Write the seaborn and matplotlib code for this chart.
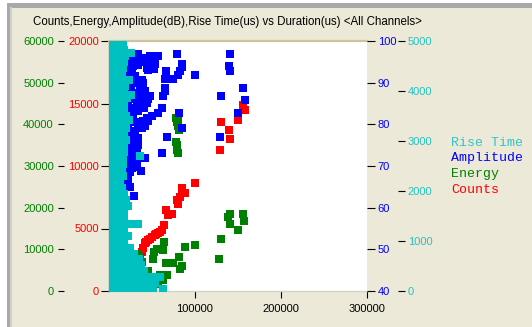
import matplotlib
matplotlib.use("Agg")
import matplotlib.pyplot as plt
import seaborn as sns
import pandas as pd
from matplotlib.patches import Rectangle

# ---------------- data (duration in thousands of us) ----------------
count_dur_k = [100, 85.3, 88.4, 82.6, 78.7, 80.6, 84.5, 65.9, 69.0, 72.9, 64.3, 61.2,
               57.4, 53.5, 49.6, 45.7, 41.9, 39.9, 38.0, 36.0, 32.2, 30.2, 28.3, 18.6,
               156.2, 158.1, 149.7, 130.2, 139.9, 140.7, 129.1, 59.0, 55.0, 47.5, 43.5,
               34.0, 26.5]
counts = [8660, 8210, 7810, 7550, 7280, 6930, 8000, 6480, 6080, 6130, 5280, 4880,
          4610, 4480, 4350, 4080, 3810, 3410, 3090, 2750, 2350, 2080, 1950, 2080,
          14900, 14450, 13710, 13520, 12910, 12190, 11250, 4700, 4550, 4200, 3950,
          2550, 1700]

energy_dur_k = [77.9, 79.0, 80.6, 81.8, 80.6, 77.9, 78.7, 79.5, 80.6,
                140.7, 138.7, 156.2, 157.4, 140.7, 149.7, 129.9, 100.0, 128.3,
                64.3, 55.4, 52.7, 63.2, 88.4, 81.4, 85.3, 82.6, 74.0, 65.9, 51.6,
                34.1, 36.0, 38.0, 34.1, 45.7, 41.9, 43.8, 32.2, 24.4, 22.5, 59.3,
                67.1, 63.2, 57.4, 49.6, 30.0, 27.0, 40.0]
energy = [41500, 40600, 39600, 38600, 41000, 35800, 35000, 33800, 33100,
          18400, 17800, 18400, 16800, 16200, 14600, 12500, 11000, 7600,
          11800, 10200, 9400, 9800, 10600, 8200, 6100, 5200, 6800, 6800, 7700,
          9000, 8200, 7000, 6200, 4800, 4000, 2600, 3800, 4600, 3400, 3800,
          3800, 2600, 1800, 2600, 1500, 2200, 1200]

amp_dur_k = [78.7, 140.7, 34.1, 32.6, 33.5, 53.5, 53.5, 52.0, 45.7, 84.5, 84.5, 82.6,
             80.6, 65.9, 100.0, 74.8, 65.1, 139.2, 140.7, 26.4, 30.2, 38.0, 39.9, 65.1,
             65.1, 63.2, 38.0, 47.7, 130.2, 39.9, 34.1, 32.2, 38.0, 43.8, 61.2, 57.4,
             49.6, 43.8, 39.9, 45.7, 34.1, 26.4, 28.3, 81.8, 85.3, 38.0, 34.1, 41.9,
             67.1, 129.1, 34.1, 30.2, 34.1, 26.4, 61.2, 41.9, 26.4, 22.5, 28.3, 156.2,
             158.1, 149.7,
             22, 26, 30, 36, 28, 24, 22, 25, 28, 23, 22, 26, 30, 24, 28, 33, 36, 22,
             26, 30, 24, 28, 31, 22, 22, 26, 30, 24, 28, 22, 22, 25, 30, 23, 27, 24,
             33, 18.6, 24.4, 22.5, 20.6, 24.4, 29.4, 16.7, 14.7, 37.2, 32.6, 26.8,
             1, 1, 1, 1, 1.2, 1.2, 1.2, 1.2,
             40, 45, 48, 57, 44, 34, 38, 42, 45, 36, 41, 31, 35, 29, 33]
amplitude = [96.9, 96.9, 96.9, 95.5, 94.3, 95.8, 94.5, 93.2, 93.0, 94.5, 93.7, 92.7,
             91.9, 92.7, 91.8, 90.9, 90.9, 93.9, 92.7, 92.7, 91.5, 90.7, 89.9, 88.7,
             87.9, 86.7, 87.9, 86.7, 86.7, 85.5, 85.5, 84.7, 84.7, 85.1, 83.9, 82.7,
             81.9, 81.5, 80.7, 80.7, 83.1, 83.1, 81.5, 82.7, 79.1, 79.1, 79.5, 79.5,
             76.9, 76.9, 76.7, 75.9, 75.1, 75.1, 73.1, 71.9, 71.9, 73.1, 70.3, 88.7,
             85.8, 82.7,
             96.0, 95.5, 96.2, 95.0, 94.0, 93.8, 92.0, 91.0, 90.0, 89.5, 88.5, 88.0,
             87.5, 86.5, 86.0, 86.5, 85.8, 84.5, 84.0, 83.5, 82.5, 82.0, 80.5, 80.8,
             79.5, 78.5, 78.0, 77.5, 77.0, 76.0, 74.5, 74.0, 73.5, 72.5, 72.0, 71.0,
             71.5, 69.4, 68.6, 66.6, 65.4, 65.0, 62.8, 62.6, 60.0, 68.8, 69.8, 69.5,
             68.0, 65.0, 62.0, 60.5, 82.0, 78.0, 76.0, 74.5,
             95.8, 94.8, 96.3, 96.5, 93.5, 87.0, 86.0, 88.0, 86.0, 89.0, 84.0, 90.5,
             80.0, 77.5, 74.0]

rise_rows = [
    (4950, [4, 8, 12, 16]),
    (4830, [3, 7, 11, 15, 18]),
    (4760, [26]),
    (4710, [3, 7, 11, 15, 19]),
    (4590, [2, 6, 10, 14, 17]),
    (4470, [2, 6, 10, 14, 16]),
    (4350, [3, 7, 11, 15]),
    (4230, [3, 7, 11, 15, 18, 23]),
    (4110, [2, 6, 10, 14, 19]),
    (3990, [1, 5, 9, 13, 17]),
    (3930, [26]),
    (3870, [1, 5, 9, 13, 17, 21]),
    (3750, [1, 5, 9, 13, 18]),
    (3630, [1, 5, 9, 13, 17]),
    (3510, [1, 5, 9, 13, 17, 20]),
    (3430, [23]),
    (3390, [1, 5, 9, 13, 17]),
    (3270, [1, 5, 9, 13, 17, 20]),
    (3150, [1, 5, 9, 13, 17]),
    (3030, [1, 5, 9, 13, 17, 20]),
    (2910, [1, 5, 9, 13, 17]),
    (2790, [1, 5, 9, 13, 17]),
    (2710, [36]),
    (2670, [1, 5, 9, 13, 16]),
    (2550, [1, 5, 9, 13, 16]),
    (2430, [1, 5, 9, 13, 15]),
    (2310, [1, 5, 9, 13, 16]),
    (2190, [1, 5, 9, 13]),
    (2070, [1, 5, 9, 13, 15]),
    (1950, [1, 5, 9, 13, 17]),
    (1830, [1, 5, 9, 13, 16, 20]),
    (1710, [1, 5, 9, 13, 17, 22]),
    (1590, [1, 5, 9, 13, 17]),
    (1470, [1, 5, 9, 13, 17]),
    (1350, [1, 5, 9, 13, 17, 21, 26, 34]),
    (1230, [1, 5, 9, 13, 17]),
    (1110, [1, 5, 9, 13, 17, 22]),
    (990, [1, 5, 9, 13, 17]),
    (870, [1, 5, 9, 13, 17, 24]),
    (750, [1, 5, 9, 13, 17, 21, 25, 29]),
    (650, [1, 5, 9, 13, 17, 21, 25, 30, 35]),
    (530, [1, 5, 9, 13, 17, 21, 25, 29, 33, 37]),
    (410, [1, 5, 9, 13, 17, 21, 25, 29, 33, 37, 41]),
    (290, [1, 5, 9, 13, 17, 21, 25, 29, 33, 37, 41, 45, 54, 59]),
    (170, [1, 5, 9, 13, 17, 21, 25, 29, 33, 37, 41, 49, 53]),
    (50, [1, 5, 9, 13, 17, 21, 25, 29, 33, 37, 45, 51, 63]),
]

x_ticks = [100000, 200000, 300000]
count_ticks = [0, 5000, 10000, 15000, 20000]
energy_ticks = [0, 10000, 20000, 30000, 40000, 50000, 60000]
amp_ticks = [40, 50, 60, 70, 80, 90, 100]
rise_ticks = [0, 1000, 2000, 3000, 4000, 5000]
legend_labels = ["Rise Time", "Amplitude", "Energy", "Counts"]

# ---------------- build frames ----------------
df_c = pd.DataFrame({"dur": [v * 1000 for v in count_dur_k], "val": counts})
df_e = pd.DataFrame({"dur": [v * 1000 for v in energy_dur_k], "val": energy})
df_a = pd.DataFrame({"dur": [v * 1000 for v in amp_dur_k], "val": amplitude})
rx, ry = [], []
for r, xs in rise_rows:
    for xv in xs:
        rx.append(xv * 1000)
        ry.append(r)
df_r = pd.DataFrame({"dur": rx, "val": ry})

# ---------------- style ----------------
sns.set_theme(style="white")
plt.rcParams['font.family'] = ['Liberation Sans', 'DejaVu Sans']

BG = '#ECE9D8'
C_RED, C_GREEN, C_BLUE, C_CYAN = '#FF0000', '#008000', '#0000FF', '#00C0C0'
W, H = 532, 327

fig = plt.figure(figsize=(W / 100, H / 100), dpi=100, facecolor=BG)
ax = fig.add_axes([109 / W, 36 / H, 258 / W, 250 / H])
ax.set_facecolor('white')
ax_e = ax.twinx()
ax_a = ax.twinx()
ax_r = ax.twinx()

MS = 27
kw = dict(marker='s', s=MS, linewidth=0, legend=False)
sns.scatterplot(data=df_c, x="dur", y="val", ax=ax, color=C_RED, **kw)
sns.scatterplot(data=df_e, x="dur", y="val", ax=ax_e, color=C_GREEN, **kw)
sns.scatterplot(data=df_a, x="dur", y="val", ax=ax_a, color=C_BLUE, **kw)
sns.scatterplot(data=df_r, x="dur", y="val", ax=ax_r, color=C_CYAN, **kw)

ax.set_xlim(0, 300000)
ax.set_ylim(0, 20000)
ax_e.set_ylim(0, 60000)
ax_a.set_ylim(40, 100)
ax_r.set_ylim(0, 5000)

for a in (ax, ax_e, ax_a, ax_r):
    a.set_xlabel("")
    a.set_ylabel("")

ax.set_xticks(x_ticks)
ax.set_xticklabels([str(t) for t in x_ticks])
ax.set_yticks(count_ticks)
ax.set_yticklabels([str(t) for t in count_ticks])
ax_e.set_yticks(energy_ticks)
ax_e.set_yticklabels([str(t) for t in energy_ticks])
ax_a.set_yticks(amp_ticks)
ax_a.set_yticklabels([str(t) for t in amp_ticks])
ax_r.set_yticks(rise_ticks)
ax_r.set_yticklabels([str(t) for t in rise_ticks])

FS = 8
ax.tick_params(axis='x', bottom=True, top=False, direction='out', length=5, width=0.8,
               color='black', pad=4, labelsize=FS, labelcolor='black')
ax.tick_params(axis='y', left=True, right=False, labelleft=True, labelright=False,
               direction='out', length=5.8, width=0.8, color='black', pad=1.5,
               labelsize=FS, labelcolor=C_RED)

ax_e.yaxis.tick_left()
ax_e.spines['left'].set_position(('outward', 32.4))
ax_e.tick_params(axis='y', left=True, right=False, labelleft=True, labelright=False,
                 direction='out', length=4.3, width=0.8, color='black', pad=3,
                 labelsize=FS, labelcolor=C_GREEN)

ax_a.tick_params(axis='y', right=True, left=False, labelright=True, labelleft=False,
                 direction='out', length=5.8, width=0.8, color='black', pad=2,
                 labelsize=FS, labelcolor=C_BLUE)

ax_r.spines['right'].set_position(('outward', 22.3))
ax_r.tick_params(axis='y', right=True, left=False, labelright=True, labelleft=False,
                 direction='out', length=5, width=0.8, color='black', pad=2,
                 labelsize=FS, labelcolor='#20C4C4')

for a in (ax_e, ax_a, ax_r):
    for s in a.spines.values():
        s.set_visible(False)
ax.spines['right'].set_visible(False)
ax.spines['left'].set_color('#7A7A7A')
ax.spines['left'].set_linewidth(1.0)
ax.spines['top'].set_color('#CFC39C')
ax.spines['top'].set_linewidth(1.6)
ax.spines['bottom'].set_color('#D6D2C4')
ax.spines['bottom'].set_linewidth(1.0)
for a in (ax, ax_e, ax_a, ax_r):
    a.grid(False)

# title
fig.text(227 / W, 1 - 22 / H,
         "Counts,Energy,Amplitude(dB),Rise Time(us) vs Duration(us) <All Channels>",
         ha='center', va='center', fontsize=8.3, color='black')

# legend text
leg_colors = ['#30C4C4', C_BLUE, C_GREEN, C_RED]
leg_y = [143, 158, 174, 190]
for lab, col, yy in zip(legend_labels, leg_colors, leg_y):
    fig.text(451 / W, 1 - yy / H, lab, color=col, fontsize=9.5,
             family=['Liberation Mono', 'DejaVu Sans Mono'], ha='left', va='center')

# window frame
fig.add_artist(Rectangle((0, 0), 7 / W, 1, transform=fig.transFigure,
                         facecolor='white', edgecolor='none'))
fig.add_artist(Rectangle((0, 1 - 3 / H), 1, 3 / H, transform=fig.transFigure,
                         facecolor='white', edgecolor='none'))
fig.add_artist(Rectangle((7 / W, 0), 4 / W, 1 - 3 / H, transform=fig.transFigure,
                         facecolor='#A9A9A9', edgecolor='none'))
fig.add_artist(Rectangle((7 / W, 1 - 8 / H), 1, 5 / H, transform=fig.transFigure,
                         facecolor='#A9A9A9', edgecolor='none'))
fig.add_artist(Rectangle((10 / W, 0), 1.5 / W, 1 - 7 / H, transform=fig.transFigure,
                         facecolor='#D0D0D0', edgecolor='none'))

fig.savefig("out.png", dpi=100, facecolor=BG)
